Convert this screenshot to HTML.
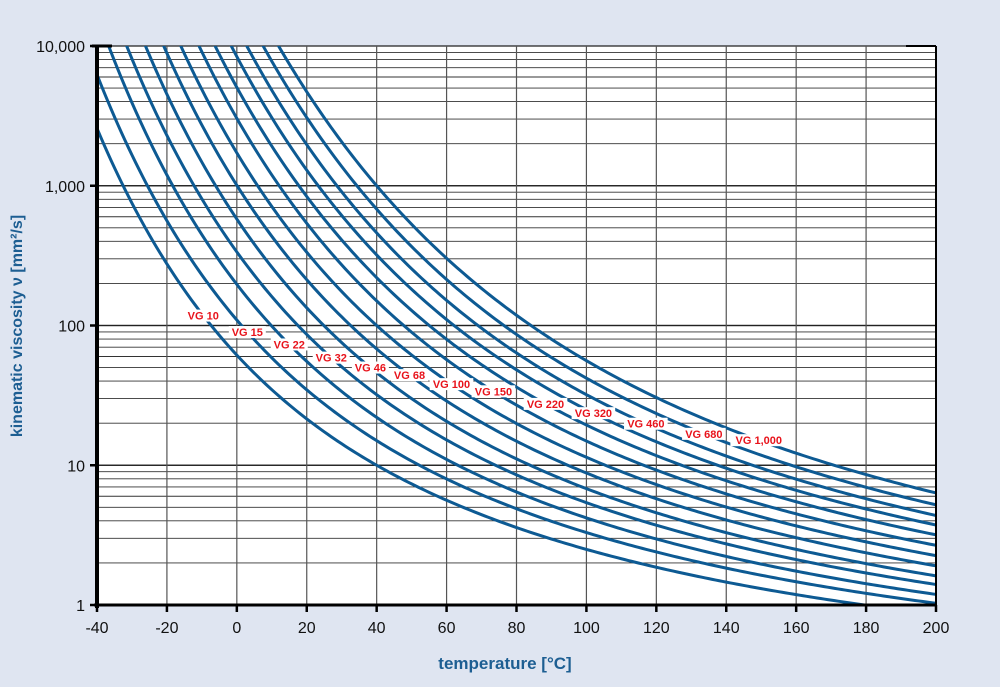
<!DOCTYPE html>
<html><head><meta charset="utf-8"><style>
html,body{margin:0;padding:0;background:#dfe5f1;}
svg{display:block;font-family:"Liberation Sans",Arial,sans-serif;}
</style></head><body>
<svg id="chart" width="1000" height="687" viewBox="0 0 1000 687">
<rect x="0" y="0" width="1000" height="687" fill="#dfe5f1"/>
<rect x="97" y="46" width="839" height="559" fill="#ffffff"/>
<g id="grid"></g>
<g id="curves"></g>
<g id="labels"></g>
<g id="axes"></g>
<text transform="translate(22,326) rotate(-90)" text-anchor="middle" font-size="16" font-weight="bold" fill="#1d5e92">kinematic viscosity ν [mm²/s]</text>
<text x="505" y="669" text-anchor="middle" font-size="17" font-weight="bold" fill="#1d5e92">temperature [°C]</text>
</svg>
<script>
const grades = ["VG 10","VG 15","VG 22","VG 32","VG 46","VG 68","VG 100","VG 150","VG 220","VG 320","VG 460","VG 680","VG 1,000"];
const visc40 = [10,15,22,32,46,68,100,150,220,320,460,680,1000];
const visc100 = [2.5,3.3,4.2,5.4,6.8,8.8,11.4,14.9,19.4,25,32,42,56];
const labelTemps = [-9.6,3,15,27,38.2,49.4,61.4,73.4,88.3,102,117,133.6,149.3];
const xTicks = [-40,-20,0,20,40,60,80,100,120,140,160,180,200];
const yTicks = [1,10,100,1000,10000];
const yTickLabels = ["1","10","100","1,000","10,000"];

const NS="http://www.w3.org/2000/svg";
const X0=97,X1=936,Y0=605,Y1=46;
const TMIN=-40,TMAX=200;
function xs(t){return X0+(t-TMIN)/(TMAX-TMIN)*(X1-X0);}
function ys(v){return Y0-Math.log10(v)/4*(Y0-Y1);}
function mk(tag,attrs,parent){const e=document.createElementNS(NS,tag);for(const k in attrs)e.setAttribute(k,attrs[k]);parent.appendChild(e);return e;}
const grid=document.getElementById('grid'),curves=document.getElementById('curves'),labels=document.getElementById('labels'),axes=document.getElementById('axes');

for(let d=0;d<4;d++){for(let m=1;m<=10;m++){const v=m*Math.pow(10,d);const y=ys(v);
 const l=mk('line',{x1:X0,x2:X1,y1:y,y2:y,stroke:m===1||m===10?'#222':'#333','stroke-width':m===1||m===10?1.2:0.9},grid);
 
 }}
xTicks.forEach(t=>{const x=xs(t);
 const l=mk('line',{x1:x,x2:x,y1:Y1,y2:Y0,stroke:'#555','stroke-width':1.2},grid);
 
 });

function logT(t){return Math.log10(t+273.15);}
const L40=logT(40),L100=logT(100);
function Z(v){return Math.log10(Math.log10(v+0.7));}
function viscAt(i,t){const z40=Z(visc40[i]),z100=Z(visc100[i]);const B=(z40-z100)/(L100-L40);
 const z=z40-B*(logT(t)-L40);return Math.pow(10,Math.pow(10,z))-0.7;}
const clip=mk('clipPath',{id:'pc'},document.getElementById('chart'));
mk('rect',{x:X0,y:Y1,width:X1-X0,height:Y0-Y1},clip);
curves.setAttribute('clip-path','url(#pc)');
grades.forEach((g,i)=>{let d='';for(let t=TMIN;t<=TMAX+0.01;t+=1){const v=viscAt(i,t);const y=ys(Math.max(v,0.5));
 d+=(d?'L':'M')+xs(t).toFixed(2)+','+y.toFixed(2);}
 const p=mk('path',{d:d,fill:'none',stroke:'#0d5a93','stroke-width':3},curves);
 
 
 const t=labelTemps[i];const x=xs(t),y=ys(viscAt(i,t));
 const w=g.length*6.6+4;
 const r=mk('rect',{x:x-w/2,y:y-6,width:w,height:12,fill:'#ffffff'},labels);
 
 
 const tx=mk('text',{x:x,y:y+4,'text-anchor':'middle','font-size':11,'font-weight':'bold',fill:'#e8131b'},labels);
 tx.textContent=g;
 
 });

[[X0,Y1,X0,Y0+3,4],[X0-3,Y0,X1+1,Y0,3],[X1,Y1,X1,Y0,2],[X0-5,Y1,X0+15,Y1,3],[X1-30,Y1,X1,Y1,2]].forEach(a=>{
 const l=mk('line',{x1:a[0],y1:a[1],x2:a[2],y2:a[3],stroke:'#000','stroke-width':a[4]},axes);
 
 });
xTicks.forEach(t=>{const x=xs(t);
 const l=mk('line',{x1:x,x2:x,y1:Y0,y2:Y0+7,stroke:'#000','stroke-width':2.5},axes);
 
 
 const tx=mk('text',{x:x,y:Y0+28,'text-anchor':'middle','font-size':16,fill:'#111'},axes);
 tx.textContent=String(t);
 
 });
yTicks.forEach((v,i)=>{const y=ys(v);
 const l=mk('line',{x1:X0-7,x2:X0,y1:y,y2:y,stroke:'#000','stroke-width':2.5},axes);
 
 
 const tx=mk('text',{x:X0-12,y:y+6,'text-anchor':'end','font-size':16,fill:'#111'},axes);
 tx.textContent=yTickLabels[i];
 
 });
</script>
</body></html>
